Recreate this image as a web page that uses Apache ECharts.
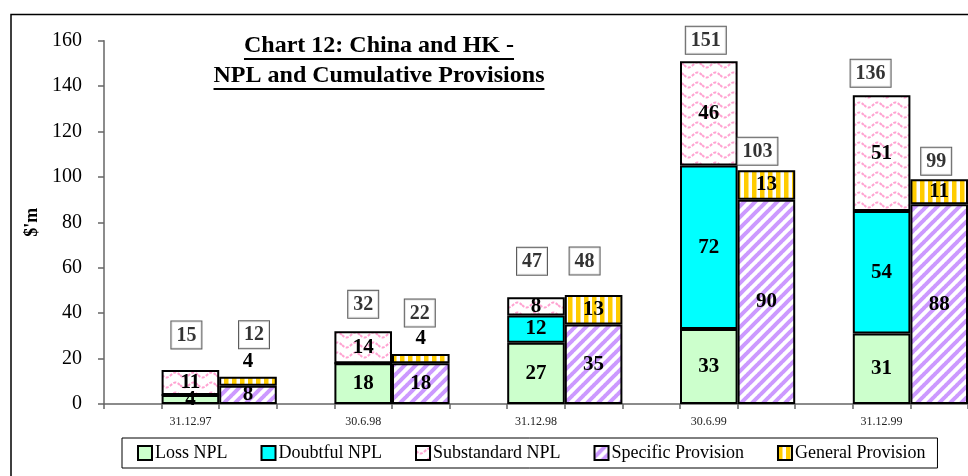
<!DOCTYPE html>
<html>
<head>
<meta charset="utf-8">
<script src="https://cdn.jsdelivr.net/npm/echarts@6/dist/echarts.min.js"></script>
<style>
  html, body { margin: 0; padding: 0; background: #fff; }
  #chart { width: 968px; height: 476px; }
</style>
</head>
<body>
<div id="chart"></div>
<script>
const dates = ['31.12.97', '30.6.98', '31.12.98', '30.6.99', '31.12.99']
const lossNPL = [4, 18, 27, 33, 31]
const doubtfulNPL = [0, 0, 12, 72, 54]
const substandardNPL = [11, 14, 8, 46, 51]
const specificProv = [8, 18, 35, 90, 88]
const generalProv = [4, 4, 13, 13, 11]
const nplTotal = [15, 32, 47, 151, 136]
const provTotal = [12, 22, 48, 103, 99]
const yMin = 0, yMax = 160, yStep = 20

const FONT = 'Liberation Serif'

// the boxed totals were hand placed in the original, nudge them the same way
const nplBoxNudge = [[-4, -16], [0, -8], [-4, -17], [-3, -2], [-11, -3]]
const provBoxNudge = [[6, -23], [-1, -22], [-9, -15], [-9, 0], [-3, 1]]

// every date takes three slots on the axis: gap, NPL bar, provision bar
const categories = []
dates.forEach(d => { categories.push('', d, '') })

function slot(values, offset, map) {
  const out = categories.map(() => '-')
  values.forEach((v, i) => { out[i * 3 + offset] = map ? map(v, i) : v })
  return out
}

// fill patterns
function tile(w, h, draw) {
  const c = document.createElement('canvas')
  c.width = w; c.height = h
  const ctx = c.getContext('2d')
  ctx.fillStyle = '#fff'
  ctx.fillRect(0, 0, w, h)
  draw(ctx)
  return { image: c, repeat: 'repeat' }
}
const wavePink = tile(18, 10, ctx => {
  ctx.strokeStyle = '#ffa3d1'
  ctx.lineWidth = 2
  ctx.setLineDash([3, 1.5])
  ctx.beginPath()
  for (let x = 0; x <= 18; x++) {
    const y = 5 + 2.5 * Math.sin(x / 18 * Math.PI * 2)
    if (x === 0) ctx.moveTo(x, y); else ctx.lineTo(x, y)
  }
  ctx.stroke()
})
const diagPurple = tile(11, 11, ctx => {
  ctx.strokeStyle = '#cc99ff'
  ctx.lineWidth = 4
  for (let k = -1; k <= 1; k++) {
    ctx.beginPath()
    ctx.moveTo(k * 11 - 1, 12)
    ctx.lineTo(k * 11 + 12, -1)
    ctx.stroke()
  }
})
const vertYellow = tile(8, 8, ctx => {
  ctx.fillStyle = '#ffcc00'
  ctx.fillRect(0, 0, 4.5, 8)
})

const segLabel = {
  show: true, position: 'inside', color: '#000',
  fontFamily: FONT, fontWeight: 'bold', fontSize: 21,
  formatter: p => (p.value ? p.value : '')
}

function barSeries(name, values, offset, color, thin) {
  return {
    name: name, type: 'bar', stack: 'all', barWidth: '100%',
    data: slot(values, offset, v => (thin && v < 6 ? { value: v, label: { position: 'top' } } : v)),
    itemStyle: { color: color, borderColor: '#000', borderWidth: 2 },
    label: segLabel,
    emphasis: { disabled: true }
  }
}

function totalSeries(values, offset, nudge) {
  return {
    type: 'scatter', symbolSize: 1, silent: true, z: 5,
    itemStyle: { color: 'rgba(0,0,0,0)' },
    data: slot(values, offset, (v, i) => ({ value: v, label: { offset: nudge[i] } })),
    label: {
      show: true, position: 'top', distance: 5,
      color: '#000', fontFamily: FONT, fontWeight: 'bold', fontSize: 20,
      backgroundColor: '#fff', borderColor: '#333', borderWidth: 1,
      padding: [4, 5, 3, 5]
    }
  }
}

const chart = echarts.init(document.getElementById('chart'))

// underlined two line title
const measure = document.createElement('canvas').getContext('2d')
const titleFont = 'bold 24px "' + FONT + '"'
measure.font = titleFont
const titleLines = ['Chart 12: China and HK -', 'NPL and Cumulative Provisions']
const titleX = 379
const titleY = [46, 76]
const titleGraphics = []
titleLines.forEach((t, i) => {
  const w = measure.measureText(t).width
  titleGraphics.push({
    type: 'text', x: titleX, y: titleY[i],
    style: { text: t, font: titleFont, fill: '#000', textAlign: 'center', textVerticalAlign: 'middle' }
  })
  titleGraphics.push({
    type: 'line',
    shape: { x1: titleX - w / 2, y1: titleY[i] + 13, x2: titleX + w / 2, y2: titleY[i] + 13 },
    style: { stroke: '#000', lineWidth: 2 }
  })
})

chart.setOption({
  animation: false,
  backgroundColor: '#fff',
  grid: { left: 104, top: 40.7, width: 867, height: 363.3 },
  graphic: [
    {
      type: 'rect', shape: { x: 11, y: 14.5, width: 1000, height: 500 },
      style: { fill: 'none', stroke: '#000', lineWidth: 1.5 }, silent: true
    }
  ].concat(titleGraphics),
  legend: {
    left: 122, top: 438,
    padding: [6, 12, 6, 15], itemGap: 33, itemWidth: 14, itemHeight: 14,
    borderColor: '#000', borderWidth: 1,
    icon: 'rect',
    textStyle: { fontFamily: FONT, fontSize: 18, color: '#000', padding: [0, 0, 0, -2] },
    itemStyle: { borderColor: '#000', borderWidth: 2 },
    data: ['Loss NPL', 'Doubtful NPL', 'Substandard NPL', 'Specific Provision', 'General Provision']
  },
  xAxis: {
    type: 'category',
    data: categories,
    axisLine: { lineStyle: { color: '#666', width: 1.5 } },
    axisTick: { show: true, interval: 0, length: 5, lineStyle: { color: '#666', width: 1.5 } },
    axisLabel: { interval: 0, margin: 12, fontFamily: FONT, fontSize: 12, color: '#222' },
    splitLine: { show: false }
  },
  yAxis: {
    type: 'value', min: yMin, max: yMax, interval: yStep,
    name: "$'m", nameLocation: 'middle', nameRotate: 90, nameGap: 55,
    nameTextStyle: { fontFamily: FONT, fontWeight: 'bold', fontSize: 18, color: '#000' },
    axisLine: { show: true, lineStyle: { color: '#666', width: 1.5 } },
    axisTick: { show: true, length: 6, lineStyle: { color: '#666', width: 1.5 } },
    axisLabel: { margin: 22, fontFamily: FONT, fontSize: 20, color: '#000' },
    splitLine: { show: false }
  },
  series: [
    barSeries('Loss NPL', lossNPL, 1, '#ccffcc'),
    barSeries('Doubtful NPL', doubtfulNPL, 1, '#00ffff'),
    barSeries('Substandard NPL', substandardNPL, 1, wavePink),
    barSeries('Specific Provision', specificProv, 2, diagPurple),
    barSeries('General Provision', generalProv, 2, vertYellow, true),
    totalSeries(nplTotal, 1, nplBoxNudge),
    totalSeries(provTotal, 2, provBoxNudge)
  ]
})
</script>
</body>
</html>
